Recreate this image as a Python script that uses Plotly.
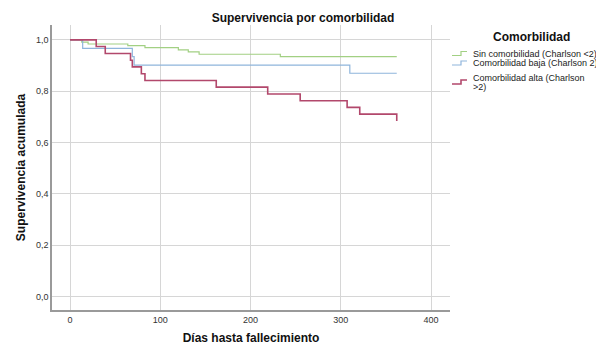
import plotly.graph_objects as go

# Kaplan-Meier step data
group_names = [
    "Sin comorbilidad (Charlson <2)",
    "Comorbilidad baja (Charlson 2)",
    "Comorbilidad alta (Charlson >2)",
]
legend_lines = [
    ["Sin comorbilidad (Charlson <2)"],
    ["Comorbilidad baja (Charlson 2)"],
    ["Comorbilidad alta (Charlson", ">2)"],
]

sin_days = [0, 13, 20, 64, 83, 120, 131, 143, 233, 362]
sin_surv = [1.0, 0.991, 0.984, 0.978, 0.970, 0.961, 0.953, 0.944, 0.935, 0.935]

baja_days = [0, 14, 69, 71, 310, 362]
baja_surv = [1.0, 0.967, 0.935, 0.902, 0.870, 0.870]

alta_days = [0, 29, 39, 67, 69, 79, 83, 162, 219, 255, 307, 321, 362]
alta_surv = [1.0, 0.974, 0.947, 0.921, 0.895, 0.868, 0.842, 0.816, 0.789, 0.763, 0.737, 0.711, 0.684]

x_ticks = [0, 100, 200, 300, 400]
y_ticks = [0.0, 0.2, 0.4, 0.6, 0.8, 1.0]

colors = ["#a2d083", "#8fb5dc", "#b2486c"]
widths = [1.2, 1.2, 1.6]

FONT = "Arial, Liberation Sans, sans-serif"

# The page body has an 8px default margin; size the figure so it fits the window.
OFF = 8
W, H = 604 - OFF, 358 - OFF
ML, MR, MT, MB = 52 - OFF, 154, 25 - OFF, 48
PW, PH = W - ML - MR, H - MT - MB


def px(xw, yw):
    """window pixel -> paper coords"""
    return (xw - OFF - ML) / PW, 1 - (yw - OFF - MT) / PH


fig = go.Figure()
for name, xs, ys, c, w in zip(
    group_names,
    [sin_days, baja_days, alta_days],
    [sin_surv, baja_surv, alta_surv],
    colors,
    widths,
):
    fig.add_trace(
        go.Scatter(
            x=xs, y=ys, name=name, mode="lines", showlegend=False,
            line=dict(color=c, width=w, shape="hv"),
        )
    )

# ---- hand-built legend (SPSS style with step symbols) ----
annotations = []
shapes = []
lx, ly = px(531, 37)
annotations.append(dict(
    x=lx, y=ly, xref="paper", yref="paper", xanchor="center", yanchor="middle",
    text="<b>Comorbilidad</b>", showarrow=False,
    font=dict(size=12, family=FONT, color="#111111"),
))
item_rows = [[54], [63.5], [78, 87]]
for lines, rows, c, w in zip(legend_lines, item_rows, colors, widths):
    for txt, yrow in zip(lines, rows):
        tx, ty = px(471, yrow)
        annotations.append(dict(
            x=tx, y=ty, xref="paper", yref="paper", xanchor="left", yanchor="middle",
            text=txt, showarrow=False,
            font=dict(size=9, family=FONT, color="#222222"),
        ))
    ymid = sum(rows) / len(rows)
    x0, ylow = px(452, ymid + 1.5)
    xm, yhigh = px(461, ymid - 2.5)
    x1, _ = px(467, ymid)
    shapes.append(dict(
        type="path", xref="paper", yref="paper",
        path=f"M {x0} {ylow} L {xm} {ylow} L {xm} {yhigh} L {x1} {yhigh}",
        line=dict(color=c, width=w),
    ))

fig.update_layout(
    width=W, height=H,
    margin=dict(l=ML, r=MR, t=MT, b=MB, autoexpand=False),
    paper_bgcolor="white", plot_bgcolor="white",
    separators=",.",
    font=dict(family=FONT, color="#222222", size=10),
    title=dict(
        text="<b>Supervivencia por comorbilidad</b>",
        x=(303 - OFF) / W, xanchor="center",
        y=1 - (18 - OFF) / H, yanchor="middle",
        font=dict(size=12, family=FONT, color="#111111"),
    ),
    showlegend=False,
    annotations=annotations,
    shapes=shapes,
)

fig.update_xaxes(
    range=[-20, 421],
    tickvals=x_ticks,
    ticktext=[str(v) for v in x_ticks],
    showgrid=True, gridcolor="#d6d6d6", gridwidth=1,
    zeroline=False,
    showline=True, linecolor="#9a9a9a", linewidth=1.5,
    ticks="", tickfont=dict(size=9, color="#333333", family=FONT),
    title=dict(text="<b>Días hasta fallecimiento</b>", standoff=10,
               font=dict(size=12, family=FONT, color="#111111")),
    automargin=False,
)
fig.update_yaxes(
    range=[-0.052, 1.058],
    tickvals=y_ticks,
    ticktext=[f"{v:.1f}".replace(".", ",") for v in y_ticks],
    showgrid=True, gridcolor="#d6d6d6", gridwidth=1,
    zeroline=False,
    showline=True, linecolor="#9a9a9a", linewidth=1.5,
    ticks="", tickfont=dict(size=9, color="#333333", family=FONT),
    title=dict(text="<b>Supervivencia acumulada</b>", standoff=8,
               font=dict(size=12, family=FONT, color="#111111")),
    automargin=False,
)

fig.write_html("out.html")
